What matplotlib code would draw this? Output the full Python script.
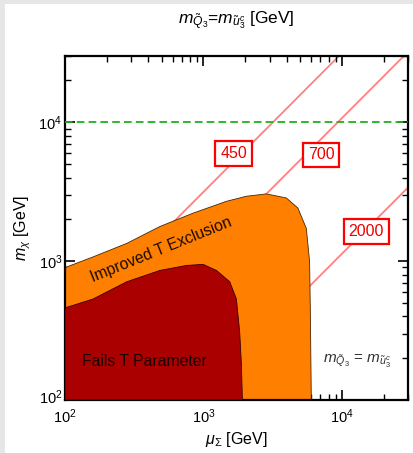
import numpy as np
import matplotlib
matplotlib.use("Agg")
import matplotlib.pyplot as plt
import matplotlib.transforms as mtransforms
from matplotlib.patches import Rectangle

plt.rcParams['font.family'] = ['Liberation Sans', 'DejaVu Sans']
plt.rcParams['mathtext.fontset'] = 'custom'
plt.rcParams['mathtext.rm'] = 'Liberation Sans'
plt.rcParams['mathtext.it'] = 'Liberation Sans:italic'
plt.rcParams['mathtext.bf'] = 'Liberation Sans:bold'
plt.rcParams['lines.scale_dashes'] = False

# boundary of the region failing the T parameter (mu_Sigma, m_chi) in GeV
fail_mu = [100, 103, 159, 279, 484, 754, 993, 1242, 1549, 1730, 1827, 1880, 1910]
fail_mchi = [452, 465, 533, 710, 857, 931, 948, 857, 710, 533, 307, 180, 100]

# boundary of the improved T exclusion
impr_mu = [100, 103, 160, 279, 484, 841, 1466, 2042, 2845, 3966, 4806, 5530, 5840, 5910, 6010]
impr_mchi = [890, 908, 1074, 1341, 1774, 2215, 2696, 2932, 3048, 2851, 2412, 1722, 991, 451, 100]

# stop mass contours [GeV]: end points of each line
contour_vals = ['450', '700', '2000']
contour_mu = [[100, 9520], [100, 28000], [885, 30000]]
contour_mchi = [[315, 30000], [107, 30000], [100, 3390]]
label_mu = [1652, 7100, 14960]
label_mchi = [5958, 5820, 1629]

mchi_line = 1e4

fig = plt.figure(figsize=(4.13, 4.53), dpi=100)
fig.patch.set_facecolor('#e6e6e6')
fig.add_artist(Rectangle((5 / 413, 0), 1, 1 - 4 / 453, transform=fig.transFigure,
                         facecolor='white', edgecolor='none', zorder=-10))

ax = fig.add_axes([65 / 413, 53 / 453, 343 / 413, 344 / 453])
ax.set_xscale('log')
ax.set_yscale('log')
ax.set_xlim(100, 30000)
ax.set_ylim(100, 30000)

for mu, mchi in zip(contour_mu, contour_mchi):
    ax.plot(mu, mchi, color='#ff8080', lw=1.3, zorder=1)

ax.fill(impr_mu + [100], impr_mchi + [100], facecolor='#ff8000',
        edgecolor='#4a2500', lw=0.6, zorder=2)
ax.fill(fail_mu + [100], fail_mchi + [100], facecolor='#aa0000',
        edgecolor='#3a0000', lw=0.6, zorder=3)

ax.axhline(mchi_line, color='#1fb01f', ls='--', lw=1.3, dashes=(5.5, 3), zorder=4)

for val, x, y in zip(contour_vals, label_mu, label_mchi):
    ax.text(x, y, val, color='#ee0000', fontsize=11.5, ha='center', va='center', zorder=5,
            bbox=dict(boxstyle='square,pad=0.3', facecolor='white', edgecolor='#ff0000', lw=1.6))

ax.text(372, 190, 'Fails T Parameter', fontsize=11.3, color='#1a0000',
        ha='center', va='center', zorder=6)
ax.text(498, 1200, 'Improved T Exclusion', fontsize=11.3, color='#1a0a00',
        ha='center', va='center', rotation=22, zorder=6)
ax.text(12850, 190, r'$m_{\tilde{Q}_3}$ = $m_{\tilde{u}_3^c}$', fontsize=11, color='#333333',
        ha='center', va='center', zorder=6)

ax.set_xlabel(r'$\mu_\Sigma$ [GeV]', fontsize=11.5, labelpad=3)
ax.set_ylabel(r'$m_\chi$ [GeV]', fontsize=11.5, labelpad=4)
ax.set_title(r'$m_{\tilde{Q}_3}$=$m_{\tilde{u}^c_3}$ [GeV]', fontsize=12.5, pad=24)

ax.tick_params(which='both', direction='in', top=True, right=True, labelsize=10.5)
ax.tick_params(axis='x', which='both', pad=5)
ax.tick_params(axis='y', which='both', pad=2)
ax.tick_params(which='major', length=7, width=1.2)
ax.tick_params(which='minor', length=4, width=1.0)
for s in ax.spines.values():
    s.set_linewidth(1.6)

# lift the bottom y label a little so it clears the corner x label
fig.canvas.draw()
ylab0 = ax.yaxis.get_major_ticks()[0].label1
for t in ax.yaxis.get_major_ticks():
    if abs(t.get_loc() - 100) < 1e-6:
        ylab0 = t.label1
ylab0.set_transform(ylab0.get_transform() +
                    mtransforms.ScaledTranslation(0, 3 / 72, fig.dpi_scale_trans))

fig.savefig('out.png', dpi=100, facecolor=fig.get_facecolor())
